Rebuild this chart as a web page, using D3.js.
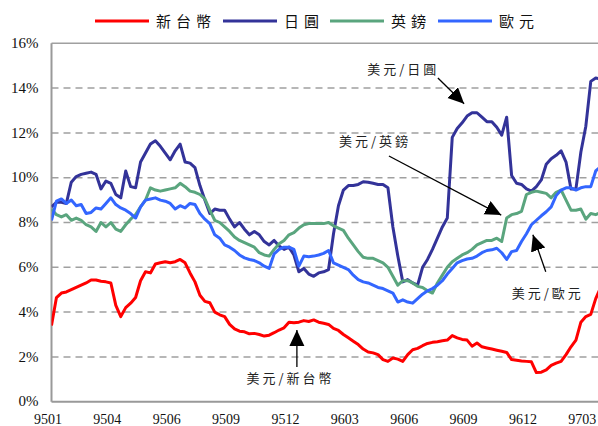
<!DOCTYPE html>
<html>
<head>
<meta charset="utf-8">
<script src="https://cdn.jsdelivr.net/npm/d3@7"></script>
<style>
  body { margin: 0; background: #fff; }
  svg { display: block; }
</style>
</head>
<body>
<svg width="598" height="426"></svg>
<script>
//volatility of four currencies against the US dollar
var svg = d3.select("svg");

const width = 598, height = 426;

// tick labels on the category axis, one every 12 points
var xLabels = ["9501", "9504", "9506", "9509", "9512", "9603", "9606", "9609", "9612", "9703"];
var yTicks = [0, 2, 4, 6, 8, 10, 12, 14, 16];

// series values (%)
var twd = [3.4, 4.65, 4.85, 4.9, 5.0, 5.1, 5.2, 5.3, 5.43, 5.43,
    5.38, 5.35, 5.3, 4.3, 3.8, 4.2, 4.4, 4.65, 5.4, 5.8,
    5.75, 6.15, 6.2, 6.25, 6.2, 6.25, 6.35, 6.2, 5.75, 5.35,
    4.75, 4.48, 4.42, 4.0, 3.88, 3.8, 3.45, 3.25, 3.15, 3.12,
    3.03, 3.05, 3.0, 2.93, 2.97, 3.08, 3.2, 3.3, 3.55, 3.52,
    3.55, 3.62, 3.58, 3.65, 3.55, 3.5, 3.45, 3.27, 3.18, 3.0,
    2.85, 2.7, 2.55, 2.35, 2.22, 2.18, 2.1, 1.88, 1.8, 1.95,
    1.9, 1.8, 2.1, 2.32, 2.38, 2.5, 2.6, 2.65, 2.68, 2.72,
    2.75, 2.95, 2.85, 2.78, 2.75, 2.48, 2.62, 2.45, 2.4, 2.35,
    2.3, 2.25, 2.2, 1.88, 1.85, 1.82, 1.8, 1.78, 1.3, 1.32,
    1.42, 1.62, 1.72, 1.8, 2.1, 2.45, 2.75, 3.55, 3.8, 3.9,
    4.6, 5.1];

var jpy = [8.7, 8.9, 8.9, 8.85, 9.8, 10.05, 10.15, 10.2, 10.25, 10.15,
    9.5, 9.85, 9.75, 9.25, 9.1, 10.3, 9.6, 9.55, 10.7, 11.1,
    11.5, 11.65, 11.4, 11.1, 10.8, 11.2, 11.5, 10.7, 10.65, 10.45,
    9.65, 9.0, 8.4, 8.6, 8.55, 8.55, 8.15, 7.8, 8.0, 7.7,
    7.45, 7.6, 7.45, 7.15, 7.0, 7.2, 6.95, 6.8, 6.9, 6.55,
    5.8, 5.95, 5.7, 5.6, 5.75, 5.8, 5.9, 7.5, 8.75, 9.45,
    9.65, 9.65, 9.7, 9.82, 9.8, 9.75, 9.7, 9.7, 9.55, 7.8,
    6.5, 5.35, 5.45, 5.3, 5.2, 6.0, 6.35, 6.8, 7.3, 7.8,
    8.2, 11.8, 12.2, 12.45, 12.75, 12.9, 12.9, 12.7, 12.5, 12.5,
    12.25, 11.9, 12.7, 10.1, 9.75, 9.7, 9.5, 9.4, 9.6, 9.9,
    10.6, 10.85, 11.0, 11.2, 10.7, 9.5, 9.5, 11.15, 12.3, 14.3,
    14.45, 14.4];

var gbp = [8.6, 8.35, 8.25, 8.35, 8.1, 8.2, 8.1, 7.9, 7.8, 7.6,
    8.0, 7.8, 8.0, 7.7, 7.6, 7.9, 8.15, 8.35, 8.7, 9.0,
    9.55, 9.45, 9.4, 9.45, 9.5, 9.55, 9.75, 9.6, 9.4, 9.35,
    9.25, 9.05, 8.55, 8.1, 8.0, 7.8, 7.6, 7.35, 7.2, 7.1,
    7.0, 6.9, 6.65, 6.55, 6.5, 6.8, 7.05, 7.2, 7.45, 7.55,
    7.75, 7.9, 7.95, 7.95, 7.95, 7.95, 8.0, 7.85, 7.75, 7.65,
    7.3, 7.0, 6.7, 6.45, 6.4, 6.4, 6.3, 6.2, 6.0, 5.6,
    5.2, 5.4, 5.4, 5.3, 5.15, 5.1, 4.95, 4.85, 5.3, 5.65,
    6.0, 6.25, 6.4, 6.55, 6.65, 6.8, 7.0, 7.1, 7.2, 7.2,
    7.3, 7.15, 8.2, 8.35, 8.4, 8.5, 9.25, 9.35, 9.4, 9.35,
    9.3, 9.1, 9.35, 9.45, 9.0, 8.55, 8.55, 8.6, 8.15, 8.4,
    8.35, 8.45];

var eur = [8.1, 8.95, 9.05, 8.85, 9.0, 8.75, 8.8, 8.4, 8.45, 8.65,
    8.6, 8.85, 9.1, 8.8, 8.65, 8.55, 8.4, 8.2, 8.7, 9.0,
    9.05, 9.1, 9.0, 8.95, 8.85, 8.6, 8.75, 8.65, 8.85, 8.8,
    8.4, 8.15, 7.95, 7.45, 7.3, 7.0, 6.9, 6.75, 6.55, 6.42,
    6.35, 6.3, 6.2, 6.05, 5.95, 6.6, 6.8, 6.9, 6.9, 6.8,
    6.05, 6.5, 6.47, 6.5, 6.55, 6.62, 6.75, 6.2, 6.1, 6.0,
    5.9, 5.65, 5.45, 5.35, 5.3, 5.2, 5.1, 5.05, 4.95, 4.85,
    4.45, 4.55, 4.45, 4.4, 4.6, 4.8, 4.95, 5.05, 5.2, 5.4,
    5.7, 5.95, 6.2, 6.3, 6.37, 6.4, 6.5, 6.65, 6.75, 6.78,
    6.85, 6.65, 6.35, 6.7, 6.75, 7.15, 7.5, 7.9, 8.1, 8.3,
    8.48, 8.7, 9.2, 9.45, 9.55, 9.55, 9.45, 9.55, 9.6, 9.6,
    10.3, 10.5];

var seriesNames = ["新台幣", "日圓", "英鎊", "歐元"];
var seriesColors = ["#ff0000", "#333399", "#5aa57e", "#3366ff"];
var seriesValues = [twd, jpy, gbp, eur];

// annotations: text anchor and arrow (index, value)
var notes = [
    { "text": "美元/日圓", "tx": 71.1, "tv": 14.85, "x1": 78.1, "v1": 14.45, "x2": 83.4, "v2": 13.3 },
    { "text": "美元/英鎊", "tx": 65.4, "tv": 11.6, "x1": 68.2, "v1": 10.97, "x2": 90.9, "v2": 8.33 },
    { "text": "美元/歐元", "tx": 100.3, "tv": 4.85, "x1": 99.9, "v1": 5.8, "x2": 97.3, "v2": 7.45 },
    { "text": "美元/新台幣", "tx": 48.3, "tv": 1.06, "x1": 49.6, "v1": 1.55, "x2": 49.6, "v2": 3.2 }
];

const plotLeft = 51.5, plotTop = 43.3, plotBottom = 401.7, step = 4.9475;
const n = twd.length;

var x = d3.scaleLinear().domain([0, n - 1]).range([plotLeft, plotLeft + (n - 1) * step]);
var y = d3.scaleLinear().domain([0, 16]).range([plotBottom, plotTop]);

svg.append("clipPath").attr("id", "plot")
    .append("rect").attr("x", plotLeft).attr("y", 0).attr("width", width - plotLeft).attr("height", plotBottom);

//grid lines, dashed, top one solid
svg.append("g")
    .selectAll("line")
    .data(yTicks.filter(function (d) { return d > 0; }))
    .enter().append("line")
    .attr("x1", plotLeft).attr("x2", width)
    .attr("y1", function (d) { return y(d); })
    .attr("y2", function (d) { return y(d); })
    .attr("stroke", "#a0a0a0")
    .attr("stroke-width", 1.5)
    .attr("stroke-dasharray", function (d) { return d == 16 ? null : "7,5"; });

//y axis labels
var yAxis = svg.append("g")
    .attr("transform", "translate(" + plotLeft + ",0)")
    .call(d3.axisLeft(y).tickValues(yTicks).tickSize(0).tickPadding(13)
        .tickFormat(function (d) { return d + "%"; }));
yAxis.select(".domain").remove();
yAxis.selectAll("text")
    .attr("font-family", "'Liberation Serif', serif")
    .attr("font-size", 15)
    .attr("fill", "#111")
    .attr("dy", "0.28em");

//x axis labels, pushed to the bottom edge like the original
var xAxis = svg.append("g")
    .attr("transform", "translate(-4," + plotBottom + ")")
    .call(d3.axisBottom(x).tickValues(d3.range(0, xLabels.length * 12, 12)).tickSize(0).tickPadding(12)
        .tickFormat(function (d, i) { return xLabels[i]; }));
xAxis.select(".domain").remove();
xAxis.selectAll("text")
    .attr("font-family", "'Liberation Serif', serif")
    .attr("font-size", 14)
    .attr("fill", "#111");

//axis lines
svg.append("line")
    .attr("x1", plotLeft).attr("x2", plotLeft).attr("y1", plotTop).attr("y2", plotBottom)
    .attr("stroke", "#999").attr("stroke-width", 2);
svg.append("line")
    .attr("x1", plotLeft).attr("x2", width).attr("y1", plotBottom).attr("y2", plotBottom)
    .attr("stroke", "#999").attr("stroke-width", 2);

//the four lines
var line = d3.line()
    .x(function (d, i) { return x(i); })
    .y(function (d) { return y(d); });

svg.append("g")
    .attr("clip-path", "url(#plot)")
    .selectAll("path")
    .data(seriesValues)
    .enter().append("path")
    .attr("d", line)
    .attr("fill", "none")
    .attr("stroke", function (d, i) { return seriesColors[i]; })
    .attr("stroke-width", 3)
    .attr("stroke-linejoin", "round");

//legend
var legendX = [95, 223, 330, 438];
var legend = svg.append("g")
    .selectAll("g")
    .data(seriesNames)
    .enter().append("g")
    .attr("transform", function (d, i) { return "translate(" + legendX[i] + ",21)"; });
legend.append("line")
    .attr("x1", 0).attr("x2", 54)
    .attr("stroke", function (d, i) { return seriesColors[i]; })
    .attr("stroke-width", 3);
legend.append("text")
    .attr("x", 61).attr("y", 6)
    .attr("font-family", "'Noto Sans CJK TC', sans-serif")
    .attr("font-size", 15)
    .attr("letter-spacing", 5)
    .attr("fill", "#111")
    .text(function (d) { return d; });

//arrow annotations
svg.append("defs").append("marker")
    .attr("id", "head")
    .attr("markerUnits", "userSpaceOnUse")
    .attr("markerWidth", 18).attr("markerHeight", 16)
    .attr("refX", 16).attr("refY", 7.5)
    .attr("orient", "auto")
    .append("path")
    .attr("d", "M0,0L16,7.5L0,15Z")
    .attr("fill", "#000");

var note = svg.append("g").selectAll("g").data(notes).enter().append("g");
note.append("line")
    .attr("x1", function (d) { return x(d.x1); })
    .attr("y1", function (d) { return y(d.v1); })
    .attr("x2", function (d) { return x(d.x2); })
    .attr("y2", function (d) { return y(d.v2); })
    .attr("stroke", "#000")
    .attr("stroke-width", 1.3)
    .attr("marker-end", "url(#head)");
note.append("text")
    .attr("x", function (d) { return x(d.tx); })
    .attr("y", function (d) { return y(d.tv); })
    .attr("dy", "0.35em")
    .attr("text-anchor", "middle")
    .attr("font-family", "'Noto Sans CJK TC', sans-serif")
    .attr("font-size", 13)
    .attr("letter-spacing", 3)
    .attr("fill", "#222")
    .text(function (d) { return d.text; });
</script>
</body>
</html>
